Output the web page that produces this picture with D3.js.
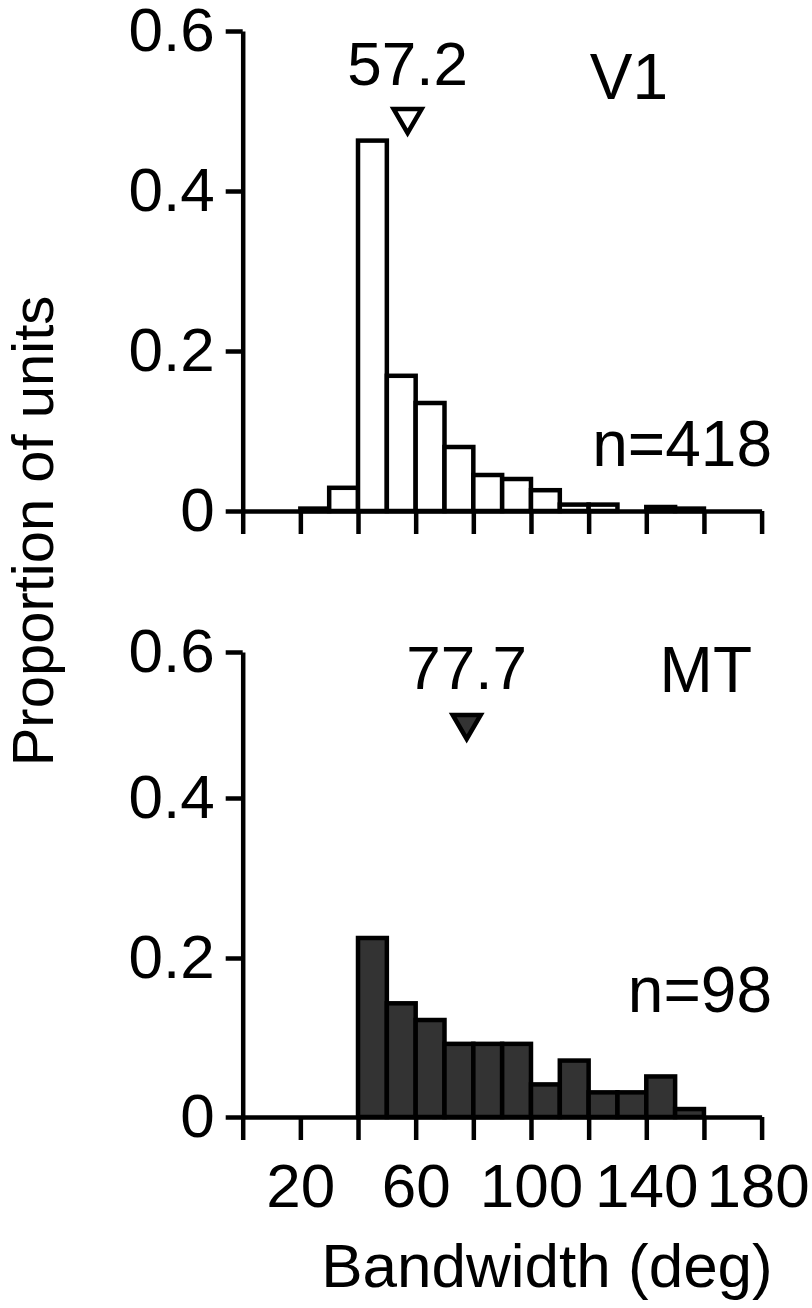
<!DOCTYPE html>
<html>
<head>
<meta charset="utf-8">
<script src="https://cdn.jsdelivr.net/npm/d3@7"></script>
<style>
  body { margin: 0; background: #fff; }
  svg text { font-family: "Liberation Sans", Arial, sans-serif; fill: #000; }
</style>
</head>
<body>
<div id="chart"></div>
<script>
// histogram bins, 10 deg wide, starting at 0
var binStarts = [0, 10, 20, 30, 40, 50, 60, 70, 80, 90, 100, 110, 120, 130, 140, 150, 160, 170];
var v1Values = [0, 0, 0.003, 0.029, 0.463, 0.169, 0.135, 0.080, 0.045, 0.040, 0.026, 0.008, 0.008, 0, 0.005, 0.003, 0, 0];
var mtValues = [0, 0, 0, 0, 0.225, 0.143, 0.122, 0.092, 0.092, 0.092, 0.041, 0.071, 0.031, 0.031, 0.051, 0.010, 0, 0];
var xTicks = [0, 20, 40, 60, 80, 100, 120, 140, 160, 180];
var xTickLabels = [20, 60, 100, 140, 180];
var yTicks = [0, 0.2, 0.4, 0.6];
var areaNames = ["V1", "MT"];
var counts = ["n=418", "n=98"];
var medians = [57.2, 77.7];

var width = 812, height = 1308;
var binWidth = 10;
var lw = 4.5;

var svg = d3.select("#chart").append("svg")
            .attr("width", width)
            .attr("height", height);

var x = d3.scaleLinear()
          .domain([0, 180])
          .range([242.7, 761.6]);

var panels = [
  {name: areaNames[0], n: counts[0], values: v1Values, median: medians[0],
   y: d3.scaleLinear().domain([0, 0.6]).range([511, 31]),
   fill: "#fff", nY: 466, nameY: 99, nameX: 668, medY: 85, triY: 121, showLabels: false},
  {name: areaNames[1], n: counts[1], values: mtValues, median: medians[1],
   y: d3.scaleLinear().domain([0, 0.2, 0.4, 0.6]).range([1117, 958, 798, 652]),
   fill: "#333", nY: 1012, nameY: 692, nameX: 752, medY: 689, triY: 727, showLabels: true}
];

panels.forEach(function(p) {
  var g = svg.append("g");

  g.selectAll("rect.bar")
   .data(binStarts.filter(function(d, i) { return p.values[i] > 0; }))
   .enter()
   .append("rect")
   .attr("class", "bar")
   .attr("x", function(d) { return x(d); })
   .attr("width", function(d) { return x(d + binWidth) - x(d); })
   .attr("y", function(d) { return p.y(p.values[binStarts.indexOf(d)]); })
   .attr("height", function(d) { return p.y(0) - p.y(p.values[binStarts.indexOf(d)]); })
   .attr("fill", p.fill)
   .attr("stroke", "#000")
   .attr("stroke-width", lw);

  var yAxis = d3.axisLeft(p.y)
                .tickValues(yTicks)
                .tickSize(17)
                .tickSizeOuter(0)
                .tickPadding(11)
                .tickFormat(function(d) { return d === 0 ? "0" : d3.format(".1f")(d); });

  var xAxis = d3.axisBottom(x)
                .tickValues(xTicks)
                .tickSize(23)
                .tickSizeOuter(0)
                .tickPadding(23)
                .tickFormat(function(d) { return (p.showLabels && xTickLabels.indexOf(d) >= 0) ? d : ""; });

  var ya = g.append("g")
            .attr("transform", "translate(" + x(0) + ",0)")
            .call(yAxis);

  var xa = g.append("g")
            .attr("transform", "translate(0," + p.y(0) + ")")
            .call(xAxis);

  [ya, xa].forEach(function(a) {
    a.select(".domain").attr("stroke-width", lw);
    a.selectAll(".tick line").attr("stroke-width", lw);
    a.selectAll(".tick text")
     .attr("fill", "#000")
     .style("font-size", "62px")
     .style("font-family", "'Liberation Sans', Arial, sans-serif");
  });

  // last label sits against the right edge, nudge it in a bit
  xa.selectAll(".tick text")
    .filter(function(d) { return d === 180; })
    .attr("dx", -4);

  // median marker
  g.append("path")
   .attr("d", "M-14,-12L14,-12L0,12Z")
   .attr("transform", "translate(" + x(p.median) + "," + p.triY + ")")
   .attr("fill", p.fill)
   .attr("stroke", "#000")
   .attr("stroke-width", lw);

  g.append("text")
   .attr("x", x(p.median))
   .attr("y", p.medY)
   .style("font-size", "62px")
   .style("text-anchor", "middle")
   .text(p.median.toFixed(1));

  g.append("text")
   .attr("x", p.nameX)
   .attr("y", p.nameY)
   .style("font-size", "64px")
   .style("text-anchor", "end")
   .text(p.name);

  g.append("text")
   .attr("x", 772)
   .attr("y", p.nY)
   .style("font-size", "64px")
   .style("text-anchor", "end")
   .text(p.n);
});

svg.append("text")
   .attr("transform", "translate(53,531) rotate(-90)")
   .style("font-size", "58px")
   .style("text-anchor", "middle")
   .text("Proportion of units");

svg.append("text")
   .attr("x", 547)
   .attr("y", 1287)
   .style("font-size", "62px")
   .style("text-anchor", "middle")
   .text("Bandwidth (deg)");
</script>
</body>
</html>
